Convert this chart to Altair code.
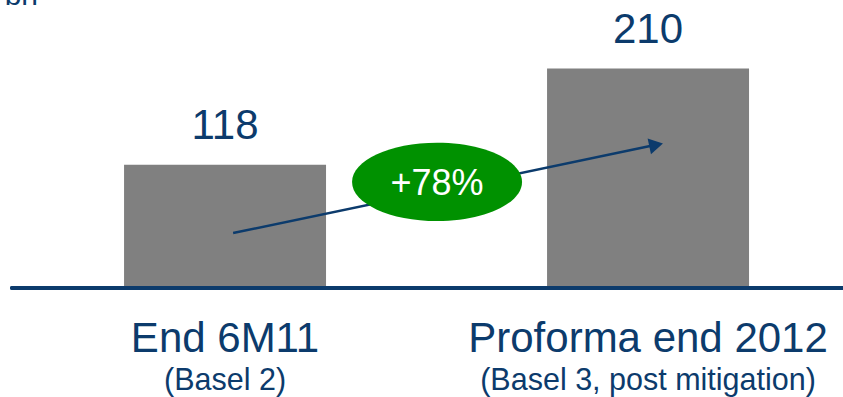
import altair as alt
import pandas as pd

# ---- data ----
categories = ["End 6M11", "Proforma end 2012"]
subtitles = ["(Basel 2)", "(Basel 3, post mitigation)"]
values = [118, 210]
growth_label = "+78%"
unit_label = "bn"
# arrow annotation (value units at start / end)
arrow_y = [52.6, 137.0]
# ellipse annotation level (value units)
bubble_y = 101.5

NAVY = "#0c3b6c"
GREY = "#808080"
GREEN = "#009100"
FONT = "Liberation Sans"

bars_df = pd.DataFrame({"cat": categories, "sub": subtitles, "val": values})
arrow_df = pd.DataFrame({"cat": categories, "val": arrow_y, "order": [0, 1]})
arrow_head_df = pd.DataFrame({"cat": [categories[1]], "val": [arrow_y[1]]})
bubble_df = pd.DataFrame({"cat": [categories[0]], "val": [bubble_y], "label": [growth_label]})

xscale = alt.Scale(domain=categories, paddingInner=0.5225, paddingOuter=0.2577, align=0.569)
yscale = alt.Scale(domain=[0, 275.6], nice=False, zero=True)

X = alt.X("cat:N", scale=xscale, axis=None, sort=categories)
Y = alt.Y("val:Q", scale=yscale, axis=None)

bars = alt.Chart(bars_df).mark_bar(color=GREY).encode(x=X, y=Y)

value_labels = alt.Chart(bars_df).mark_text(
    font=FONT, fontSize=42, color=NAVY, baseline="alphabetic", dy=-26
).encode(x=X, y=Y, text="val:Q")

cat_labels = alt.Chart(bars_df).mark_text(
    font=FONT, fontSize=42, color=NAVY, baseline="alphabetic"
).encode(x=X, y=alt.value(352), text="cat:N")

sub_labels = alt.Chart(bars_df).mark_text(
    font=FONT, fontSize=30.5, color=NAVY, baseline="alphabetic"
).encode(x=X, y=alt.value(390), text="sub:N")

XA = alt.X("cat:N", scale=xscale, axis=None, sort=categories, bandPosition=0.54)
arrow_line = alt.Chart(arrow_df).mark_line(color=NAVY, strokeWidth=2.5).encode(
    x=XA, y=Y, order="order:Q"
)
arrow_head = alt.Chart(arrow_head_df).mark_point(
    shape="triangle-right", filled=True, color=NAVY, opacity=1, size=260, angle=348
).encode(x=XA, y=Y)

# bubble sits in the gap between the bars (offset from the first band's start)
ellipse_path = "M -1 0 A 1 0.46 0 1 1 1 0 A 1 0.46 0 1 1 -1 0 Z"
bubble = alt.Chart(bubble_df).mark_point(
    shape=ellipse_path, filled=True, color=GREEN, opacity=1, size=28900
).encode(x=X, xOffset=alt.value(313), y=Y)
bubble_text = alt.Chart(bubble_df).mark_text(
    font=FONT, fontSize=36, color="white", baseline="alphabetic", dy=13
).encode(x=X, xOffset=alt.value(313), y=Y, text="label:N")

baseline = alt.Chart(bars_df).mark_rule(
    color=NAVY, strokeWidth=4, strokeCap="round"
).encode(x=alt.value(12), x2=alt.value(848), y=alt.Y(datum=0, scale=yscale, axis=None))

unit = alt.Chart(pd.DataFrame({"t": [unit_label]})).mark_text(
    font=FONT, fontSize=30, color=NAVY, align="right", baseline="alphabetic"
).encode(x=alt.value(38), y=alt.value(5), text="t:N")

chart = alt.layer(
    bars, arrow_line, arrow_head, bubble, bubble_text, baseline,
    value_labels, cat_labels, sub_labels, unit
).properties(
    width=843, height=288,
    autosize=alt.AutoSizeParams(type="none"),
    padding={"left": 0, "top": 0, "right": 0, "bottom": 109},
    background="white",
).configure_view(stroke=None)

chart.save("out.html", embed_options={"renderer": "svg", "actions": False})
